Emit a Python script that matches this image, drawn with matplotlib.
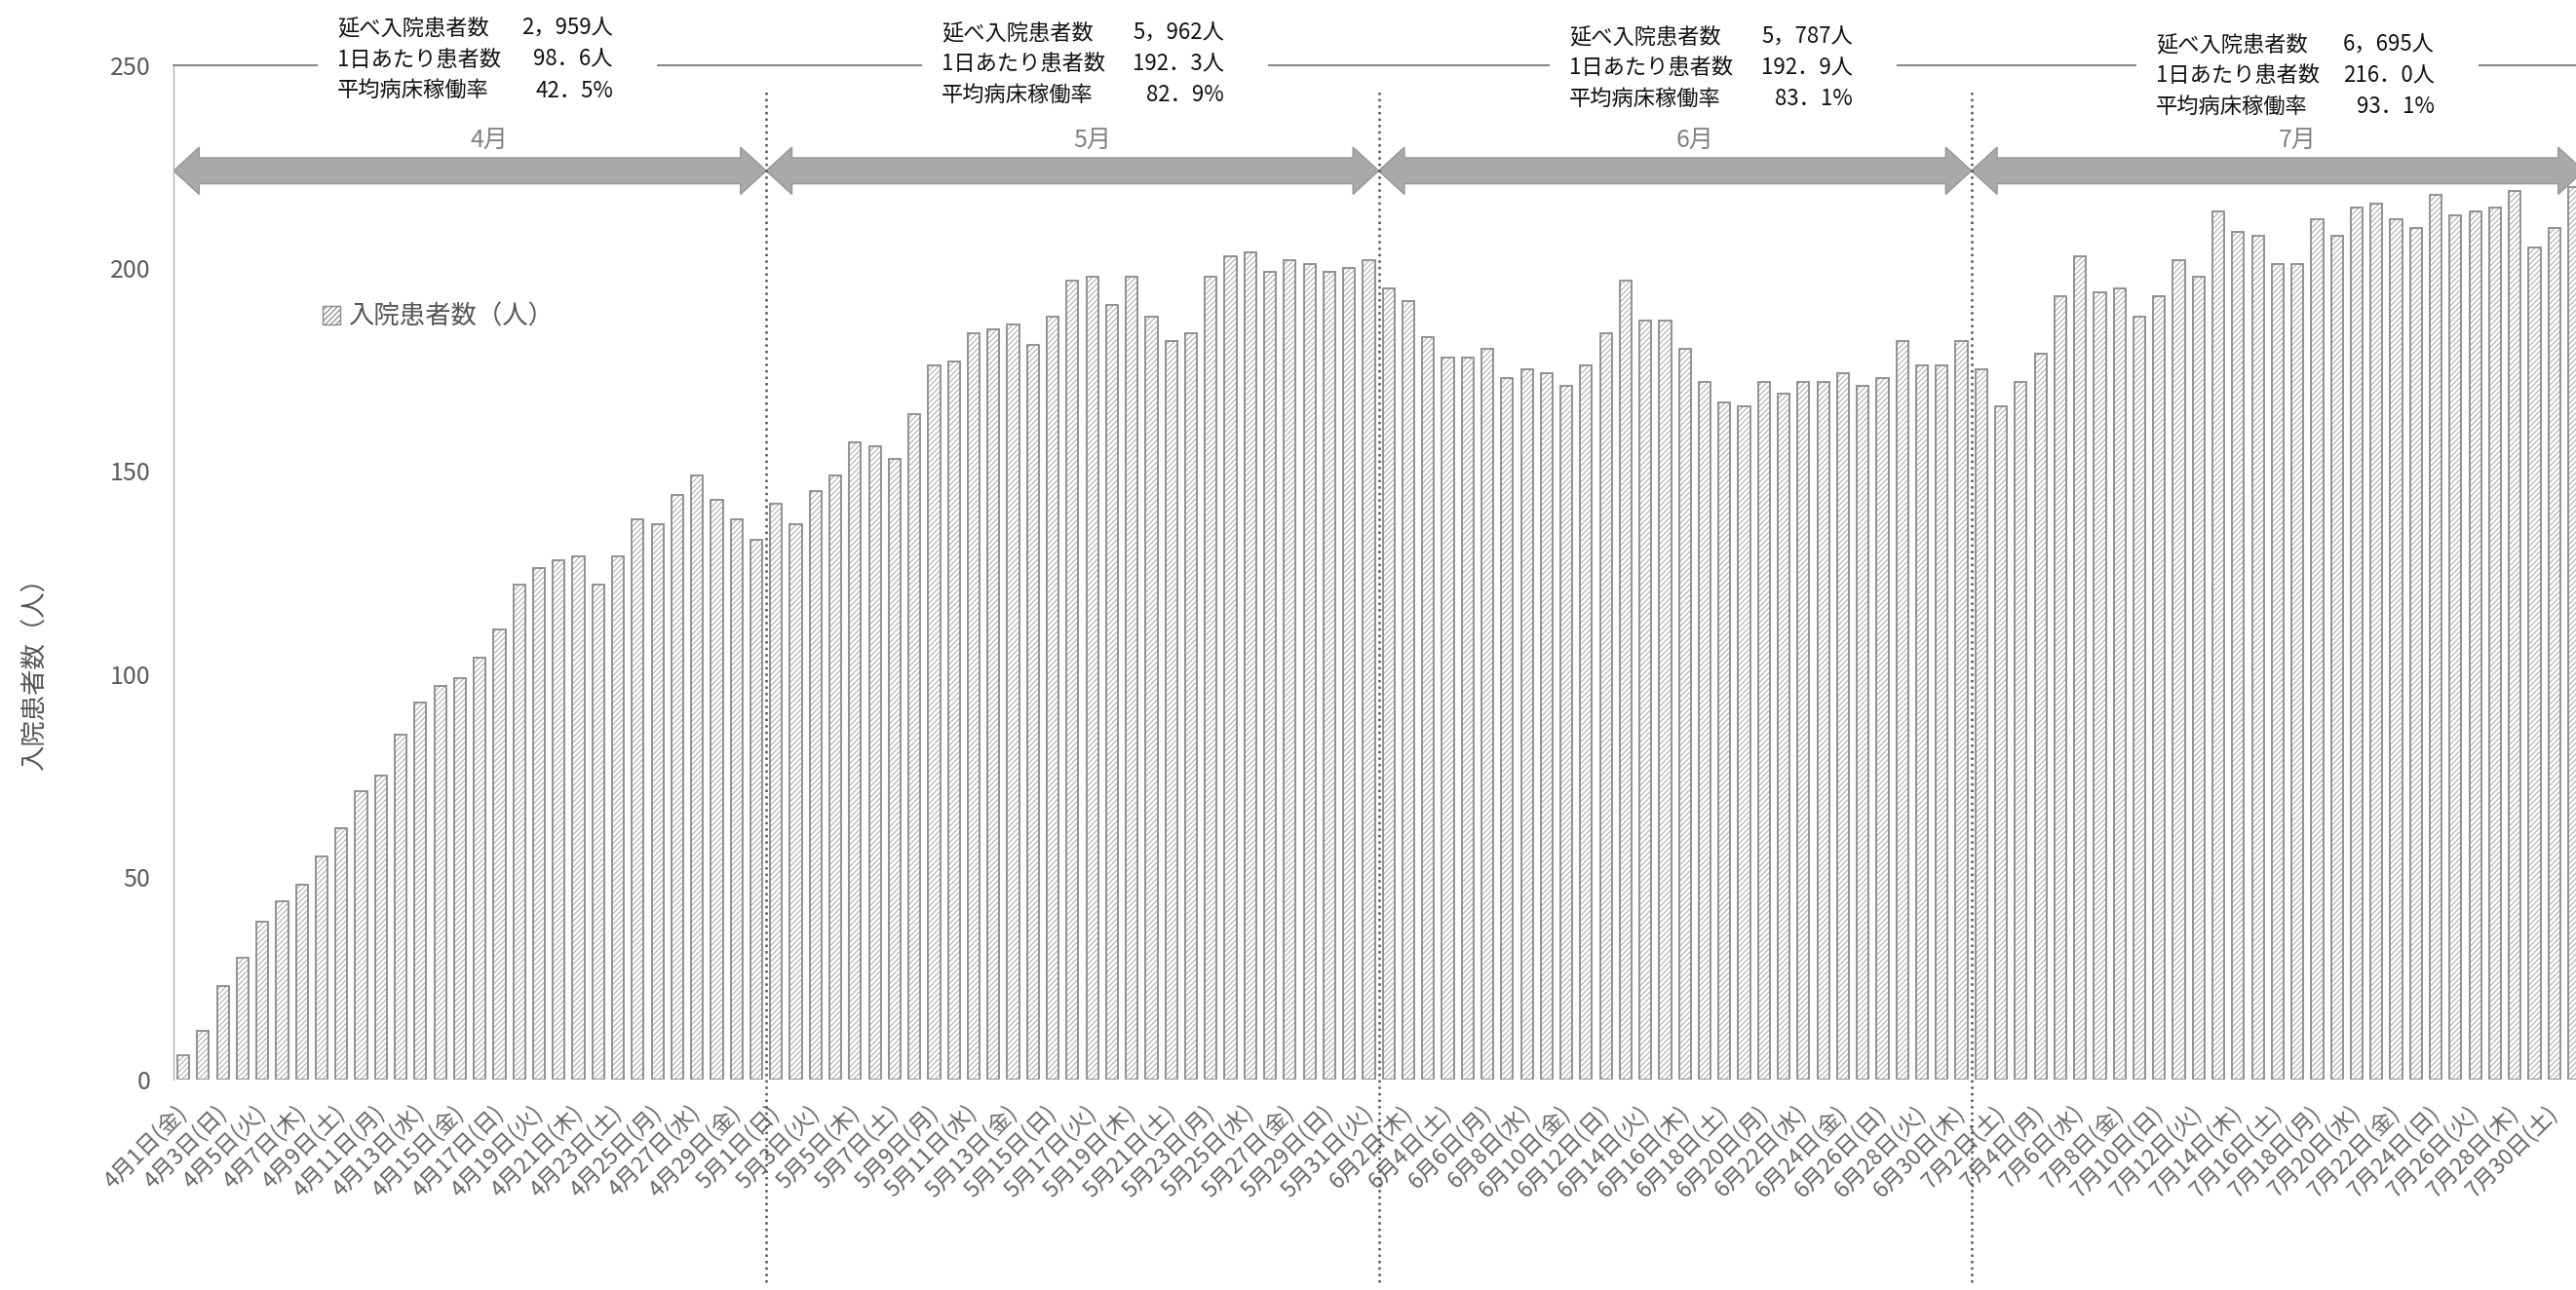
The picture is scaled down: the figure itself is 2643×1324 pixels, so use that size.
import datetime
import matplotlib.pyplot as plt
from matplotlib.patches import Polygon, Rectangle

plt.rcParams['font.family'] = ['Noto Sans CJK JP', 'DejaVu Sans']
plt.rcParams['hatch.linewidth'] = 0.9

# daily inpatients
april = [6, 12, 23, 30, 39, 44, 48, 55, 62, 71, 75, 85, 93, 97, 99,
         104, 111, 122, 126, 128, 129, 122, 129, 138, 137, 144, 149, 143, 138, 133]
may = [142, 137, 145, 149, 157, 156, 153, 164, 176, 177, 184, 185, 186, 181, 188,
       197, 198, 191, 198, 188, 182, 184, 198, 203, 204, 199, 202, 201, 199, 200, 202]
june = [195, 192, 183, 178, 178, 180, 173, 175, 174, 171, 176, 184, 197, 187, 187,
        180, 172, 167, 166, 172, 169, 172, 172, 174, 171, 173, 182, 176, 176, 182]
july = [175, 166, 172, 179, 193, 203, 194, 195, 188, 193, 202, 198, 214, 209, 208,
        201, 201, 212, 208, 215, 216, 212, 210, 218, 213, 214, 215, 219, 205, 210, 220]

months = ["4月", "5月", "6月", "7月"]
total_patients = [2959, 5962, 5787, 6695]
per_day = [98.6, 192.3, 192.9, 216.0]
occupancy = [42.5, 82.9, 83.1, 93.1]
stat_names = ["延べ入院患者数", "1日あたり患者数", "平均病床稼働率"]
weekdays = ["月", "火", "水", "木", "金", "土", "日"]
start_date = datetime.date(2022, 4, 1)

patients = april + may + june + july
month_lengths = [len(m) for m in (april, may, june, july)]
dates = [start_date + datetime.timedelta(days=i) for i in range(len(patients))]
labels = [f"{d.month}月{d.day}日({weekdays[d.weekday()]})" for d in dates]

W, H = 2643, 1324
fig = plt.figure(figsize=(W / 100, H / 100), dpi=100)
ax = fig.add_axes([178 / W, 1 - 1108 / H, (W - 178) / W, (1108 - 67) / H])

x = list(range(len(patients)))
ax.bar(x, patients, width=0.6, color='white', edgecolor='#b8b8b8',
       hatch='//////', linewidth=0)
ax.bar(x, patients, width=0.6, fill=False, edgecolor='#8a8a8a', linewidth=1.3)

ax.set_xlim(-0.5, 121.1)
ax.set_ylim(0, 250)
for s in ['bottom', 'right']:
    ax.spines[s].set_visible(False)
ax.spines['left'].set_color('#b0b0b0')
ax.spines['left'].set_linewidth(1)
ax.spines['top'].set_color('#707070')
ax.spines['top'].set_linewidth(1.2)

ax.set_yticks(range(0, 251, 50))
ax.tick_params(axis='y', length=0, pad=17, labelsize=18, labelcolor='#5a5a5a')
ax.set_xticks(x[::2])
ax.set_xticklabels(labels[::2], rotation=45, ha='right', va='center',
                   rotation_mode='anchor', fontsize=16.5, color='#666666')
ax.tick_params(axis='x', length=0, pad=22)

# month spans: dotted separators, double arrows, month names
edges = [-0.5]
for n in month_lengths:
    edges.append(edges[-1] + n)

for b in edges[1:-1]:
    ax.plot([b, b], [-50, 244], ls=':', color='#555555', lw=1.8, clip_on=False)

yc, sh, hh, hl = 224, 3.2, 5.8, 1.3
for i, name in enumerate(months):
    x0, x1 = edges[i], edges[i + 1]
    pts = [(x0, yc), (x0 + hl, yc + hh), (x0 + hl, yc + sh), (x1 - hl, yc + sh),
           (x1 - hl, yc + hh), (x1, yc), (x1 - hl, yc - hh), (x1 - hl, yc - sh),
           (x0 + hl, yc - sh), (x0 + hl, yc - hh)]
    ax.add_patch(Polygon(pts, closed=True, facecolor='#a9a9a9',
                         edgecolor='#969696', lw=1))
    ax.text((x0 + x1) / 2 + 1, 228.5, name, ha='center', va='bottom',
            fontsize=18, color='#808080')

# monthly summary blocks above the plot
left_px = [346, 966, 1610, 2212]
right_px = [629, 1256, 1901, 2498]
top_px = [29, 34, 38, 46]
line_gap = 32
for i in range(len(months)):
    l, r, t = left_px[i], right_px[i], top_px[i]
    fig.add_artist(Rectangle(((l - 20) / W, 1 - (t + 2 * line_gap + 14) / H),
                             (r - l + 65) / W, (2 * line_gap + 30) / H,
                             transform=fig.transFigure, facecolor='white',
                             edgecolor='none', zorder=3))
    values = [f"{total_patients[i]:,}人".replace(",", "，"),
              f"{per_day[i]:.1f}人".replace(".", "．"),
              f"{occupancy[i]:.1f}%".replace(".", "．")]
    for k in range(3):
        yy = 1 - (t + k * line_gap) / H
        fig.text(l / W, yy, stat_names[k], ha='left', va='center',
                 fontsize=16, color='#111111', zorder=4)
        fig.text(r / W, yy, values[k], ha='right', va='center',
                 fontsize=16, color='#111111', zorder=4)

fig.text(36 / W, 1 - 685 / H, "入院患者数（人）", rotation=90, ha='center',
         va='center', fontsize=19, color='#555555')

handle = Rectangle((0, 0), 1, 1, facecolor='white', edgecolor='#8a8a8a',
                   hatch='//////', lw=1)
ax.legend([handle], ["入院患者数（人）"], loc='center left',
          bbox_to_anchor=((331 - 178) / 2465, (1108 - 325) / 1041),
          frameon=False, fontsize=19, handlelength=0.7, handleheight=0.7,
          handletextpad=0.3, borderaxespad=0, borderpad=0, labelcolor='#555555')

fig.savefig('out.png', dpi=100)
